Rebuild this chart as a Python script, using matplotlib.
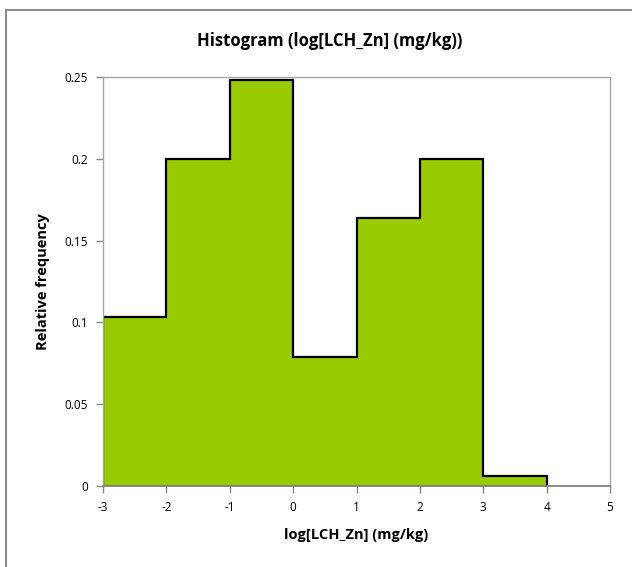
import matplotlib.pyplot as plt
from matplotlib.patches import Rectangle

bin_edges = [-3, -2, -1, 0, 1, 2, 3, 4]
rel_freq = [0.103, 0.200, 0.248, 0.079, 0.164, 0.200, 0.006]
x_ticks = [-3, -2, -1, 0, 1, 2, 3, 4, 5]
y_ticks = [0, 0.05, 0.1, 0.15, 0.2, 0.25]
y_tick_labels = ['0', '0.05', '0.1', '0.15', '0.2', '0.25']

plt.rcParams['font.family'] = ['Open Sans', 'DejaVu Sans']

fig = plt.figure(figsize=(6.32, 5.67), dpi=100)
# outer chart frame
fig.patches.append(Rectangle((6 / 632, -0.01), 1.0, 1 - 10 / 567 + 0.01,
                             transform=fig.transFigure, fill=False,
                             edgecolor='#8c8c8c', linewidth=1.5))

ax = fig.add_axes([103 / 632, 1 - 486 / 567, (610 - 103) / 632, (486 - 77) / 567])
ax.stairs(rel_freq, bin_edges, fill=True, color='#99cc00', baseline=0)
ax.stairs(rel_freq, bin_edges, fill=False, color='black', linewidth=1.6, baseline=0)

ax.set_xlim(-3, 5)
ax.set_ylim(0, 0.25)
ax.set_xticks(x_ticks)
ax.set_xticklabels([str(t) for t in x_ticks], fontsize=8.5)
ax.set_yticks(y_ticks)
ax.set_yticklabels(y_tick_labels, fontsize=8.5)
ax.tick_params(axis='both', direction='out', length=5, color='#888888', width=1)
ax.tick_params(axis='y', pad=6)
ax.tick_params(axis='x', pad=6)

for side in ['left', 'top', 'right']:
    ax.spines[side].set_color('#a6a6a6')
    ax.spines[side].set_linewidth(1)
ax.spines['bottom'].set_color('#777777')
ax.spines['bottom'].set_linewidth(1.2)

fig.text(330 / 632, 1 - 41 / 567, 'Histogram (log[LCH_Zn] (mg/kg))', fontsize=12,
         fontweight='bold', ha='center', va='center')
ax.set_xlabel('log[LCH_Zn] (mg/kg)', fontsize=10.5, fontweight='bold', labelpad=10)
ax.set_ylabel('Relative frequency', fontsize=10.5, fontweight='bold', labelpad=10)

fig.savefig('out.png', dpi=100)
